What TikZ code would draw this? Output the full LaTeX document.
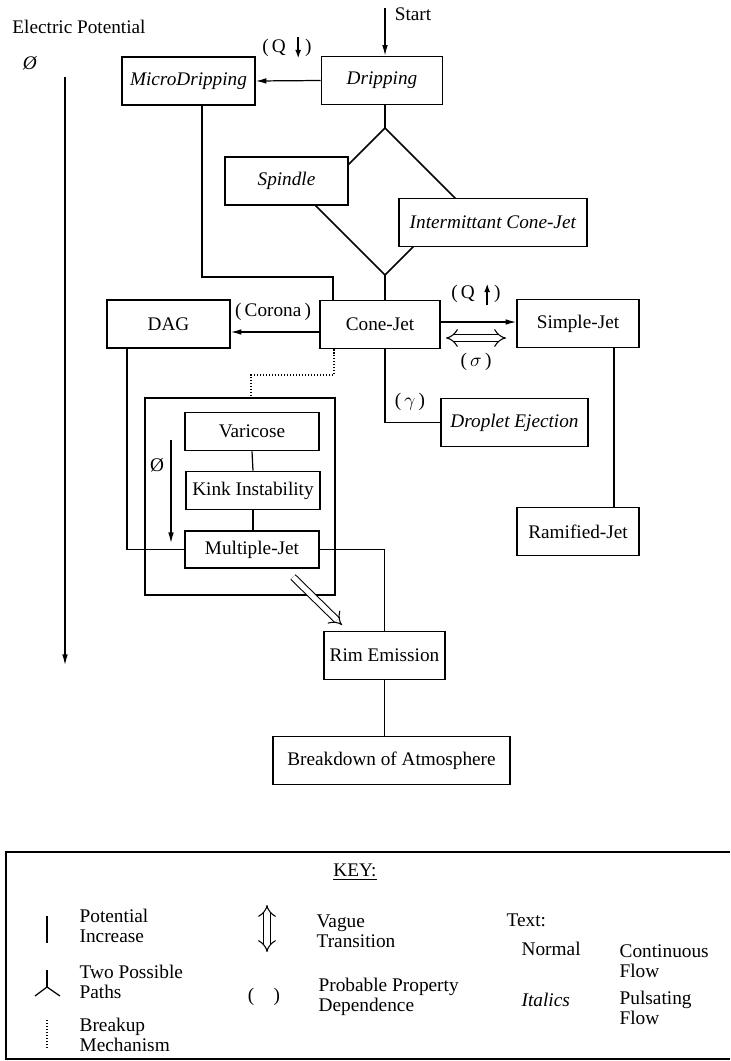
\documentclass[tikz,border=0pt,11pt]{standalone}
\usepackage{fontspec}
\setmainfont{Liberation Serif}
\usetikzlibrary{arrows.meta}

\begin{document}
\begin{tikzpicture}[x=0.02cm,y=-0.02cm,line width=0.7pt,
  >={Latex[length=6pt,width=3.2pt]},
  box/.style={draw,line width=0.9pt,fill=white,inner sep=1pt,minimum height=0.96cm},
  smallbox/.style={box,minimum width=2.68cm,minimum height=0.76cm},
  hollow/.style={double,double distance=3pt,line width=0.6pt},
  lbl/.style={inner sep=1pt},
  qarrow/.style={-{Latex[length=5pt,width=3.5pt]},line width=1.1pt},
  keytext/.style={anchor=west,align=left,inner sep=0pt,font=\fontsize{11}{11.5}\selectfont}]
\useasboundingbox (0,0) rectangle (730,1061);

%Names
\node (epot) at (79,27) {Electric Potential};
\node (phi) at (30,63) {\textit{Ø}};
\node (start) at (413,14) {Start};
\node[lbl] (qdown) at (287,48) {(\,Q\hspace{11pt})};
\node[lbl] (corona) at (273,312) {(\,Corona\,)};
\node[lbl] (qup) at (476,294) {(\,Q\hspace{11pt})};
\node[lbl] (sig) at (476,362) {(\,$\sigma$\,)};
\node[lbl] (gam) at (410,402) {(\,$\gamma$\,)};
\node[lbl] (phiin) at (157,465) {Ø};
\draw[qarrow] ([xshift=-9pt,yshift=6pt]qdown.east) -- ([xshift=-9pt,yshift=-6pt]qdown.east);
\draw[qarrow] ([xshift=-9pt,yshift=-6pt]qup.east) -- ([xshift=-9pt,yshift=6pt]qup.east);

%Diamond
\coordinate (dtop) at (385,128);
\coordinate (dleft) at (311.5,201.5);
\coordinate (dright) at (458.5,201.5);
\coordinate (dbot) at (385,275);
\draw[line width=0.9pt] (dtop) -- (dright) -- (dbot) -- (dleft) -- cycle;

%Boxes
\node[box,minimum width=2.66cm] (micro) at (188.5,81) {\textit{MicroDripping}};
\node[box,minimum width=2.42cm] (drip) at (382,80.5) {\textit{Dripping}};
\node[box,minimum width=2.46cm] (spindle) at (286.5,181) {\textit{Spindle}};
\node[box,minimum width=3.76cm] (icj) at (493,222.5) {\textit{Intermittant Cone-Jet}};
\node[box,minimum width=2.40cm] (cone) at (380,324.5) {Cone-Jet};
\node[box,minimum width=2.46cm] (dag) at (168.5,324) {DAG};
\node[box,minimum width=2.44cm] (simple) at (578,323.5) {Simple-Jet};
\node[box,minimum width=2.94cm] (drop) at (514.5,422.5) {\textit{Droplet Ejection}};
\node[box,minimum width=2.44cm] (ramif) at (578,531.5) {Ramified-Jet};
\node[draw,line width=0.9pt,minimum width=3.8cm,minimum height=3.94cm] (group) at (240,496.5) {};
\node[smallbox] (vari) at (252,431.5) {Varicose};
\node[smallbox] (kink) at (253,490.5) {Kink Instability};
\node[smallbox,minimum height=0.74cm] (mjet) at (252,549.5) {Multiple-Jet};
\node[box,minimum width=2.42cm] (rim) at (384.5,655.5) {Rim Emission};
\node[box,minimum width=4.74cm] (brk) at (391.5,760.5) {Breakdown of Atmosphere};

%Arrows
%Top
\coordinate (st) at (385,8);
\draw[->] (st) -- (st |- drip.north);
\draw[->] (drip.west) -- (micro.east);
\draw (drip.south -| dtop) -- (dtop);
\coordinate (mdbend) at (202,277);
\coordinate (mdbend2) at (333,277);
\draw (micro.south -| mdbend) -- (mdbend) -- (mdbend2) -- (mdbend2 |- cone.north);
\draw (dbot) -- (dbot |- cone.north);
%Middle
\draw[->] ([yshift=-0.15cm]cone.west) -- ([yshift=-0.15cm]cone.west -| dag.east);
\draw[->] ([yshift=0.05cm]cone.east) -- ([yshift=0.05cm]cone.east -| simple.west);
\coordinate (sa) at (446,338);
\coordinate (sb) at (506,338);
\draw[hollow,{Implies}-{Implies}] (sa) -- (sb);
\draw (dbot |- cone.south) |- (drop.west);
\draw ([xshift=0.72cm]simple.south) -- ([xshift=0.72cm]simple.south |- ramif.north);
%Breakup
\coordinate (dj) at (334,375);
\coordinate (dk) at (251,375);
\draw[densely dotted] (cone.south -| dj) -- (dj) -- (dk) -- (dk |- group.north);
\draw (vari.south) -- (kink.north);
\draw (kink.south) -- (kink.south |- mjet.north);
\coordinate (pa) at (171,440);
\coordinate (pb) at (171,543);
\draw[->] (pa) -- (pb);
%Bottom
\draw ([xshift=-0.83cm]dag.south) |- (mjet.west);
\draw (mjet.east) -| (rim.north);
\coordinate (ra) at (293,577);
\coordinate (rb) at (342,625);
\draw[hollow,-Implies] (ra) -- (rb);
\draw (rim.south) -- (rim.south |- brk.north);
\coordinate (axtop) at (65,77);
\coordinate (axbot) at (65,665);
\draw[->] (axtop) -- (axbot);

%Key
\draw (730,852) -- (6,852) -- (6,1059) -- (730,1059);
\node (key) at (355,872) {\underline{KEY:}};
\coordinate (ka) at (47,916);
\coordinate (kb) at (47,943);
\draw (ka) -- (kb);
\node[keytext] (kpot) at (79,926) {Potential\\Increase};
\coordinate (ya) at (47,970);
\coordinate (yb) at (47,987);
\draw (ya) -- (yb);
\draw (35,996) -- (yb) -- (60,996);
\node[keytext] (kpath) at (79,982) {Two Possible\\Paths};
\coordinate (da) at (47,1020);
\coordinate (db) at (47,1047);
\draw[densely dotted] (da) -- (db);
\node[keytext] (kbrk) at (79,1035) {Breakup\\Mechanism};
\coordinate (va) at (267,905);
\coordinate (vb) at (267,952);
\draw[hollow,{Implies}-{Implies}] (va) -- (vb);
\node[keytext] (kvague) at (316,931) {Vague\\Transition};
\node (kpar) at (264,997) {(\quad)};
\node[keytext] (kprob) at (318,997) {Probable Property\\Dependence};
\node[keytext] (ktext) at (506,920) {Text:};
\node[keytext] (knorm) at (521,949) {Normal};
\node[keytext] (kcont) at (619,961) {Continuous\\Flow};
\node[keytext] (kital) at (521,1000) {\textit{Italics}};
\node[keytext] (kpuls) at (619,1008) {Pulsating\\Flow};

\end{tikzpicture}
\end{document}
